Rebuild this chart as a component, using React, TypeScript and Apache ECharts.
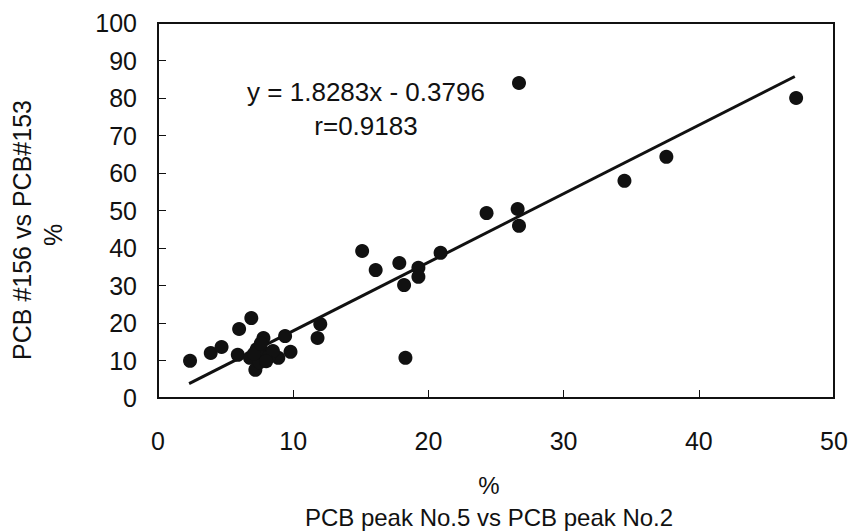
import React, { useEffect, useRef } from "react";
import * as echarts from "echarts";

const xTicks = [0, 10, 20, 30, 40, 50];
const yTicks = [0, 10, 20, 30, 40, 50, 60, 70, 80, 90, 100];

const pointsX = [
  2.37, 3.9, 4.7, 5.9, 6.0, 6.9, 9.4, 9.8, 11.8, 12.0,
  15.1, 16.1, 17.85, 18.2, 18.3, 19.26, 19.26, 20.9, 24.3, 26.6,
  26.7, 26.7, 34.5, 37.6, 47.2,
  7.8, 7.2, 6.8, 8.9, 7.3, 7.9, 8.2, 7.5, 7.1, 8.5, 7.6, 8.0,
];
const pointsY = [
  9.9, 12.0, 13.6, 11.5, 18.4, 21.3, 16.5, 12.3, 16.0, 19.7,
  39.2, 34.1, 36.0, 30.1, 10.7, 34.7, 32.3, 38.7, 49.3, 50.4,
  45.9, 84.0, 57.9, 64.3, 80.0,
  16.0, 7.5, 10.7, 10.7, 13.0, 12.0, 11.0, 9.5, 11.8, 12.5, 14.5, 9.8,
];

const fitSlope = 1.8283;
const fitIntercept = -0.3796;
const fitRange = [2.3, 47.1];

const equationText = "y = 1.8283x - 0.3796";
const rText = "r=0.9183";
const xTitle = "PCB peak No.5 vs PCB peak No.2";
const xUnit = "%";
const yTitle = "PCB #156 vs PCB#153";
const yUnit = "%";

const FONT = "'Liberation Sans', Arial, sans-serif";

export default function App() {
  const ref = useRef<HTMLDivElement>(null);
  useEffect(() => {
    if (!ref.current) return;
    const chart = echarts.init(ref.current, null, { renderer: "svg" });
    const scatterData = pointsX.map((x, i) => [x, pointsY[i]]);
    const lineData = fitRange.map((x) => [x, fitSlope * x + fitIntercept]);
    chart.setOption({
      animation: false,
      backgroundColor: "#ffffff",
      grid: {
        left: 158,
        top: 23,
        width: 676,
        height: 375,
        show: true,
        borderColor: "#111",
        borderWidth: 2,
        backgroundColor: "transparent",
      },
      xAxis: {
        type: "value",
        min: 0,
        max: 50,
        interval: 10,
        axisLine: { show: true, lineStyle: { color: "#111", width: 2 } },
        axisTick: { show: true, inside: true, length: 8, lineStyle: { color: "#111", width: 1 } },
        axisLabel: { color: "#111", fontSize: 25, fontFamily: FONT, margin: 30 },
        splitLine: { show: false },
      },
      yAxis: {
        type: "value",
        min: 0,
        max: 100,
        interval: 10,
        axisLine: { show: true, lineStyle: { color: "#111", width: 2 } },
        axisTick: { show: true, inside: true, length: 8, lineStyle: { color: "#111", width: 1 } },
        axisLabel: { color: "#111", fontSize: 25, fontFamily: FONT, margin: 21 },
        splitLine: { show: false },
      },
      series: [
        {
          type: "line",
          data: lineData,
          symbol: "none",
          lineStyle: { color: "#111", width: 3 },
          z: 2,
        },
        {
          type: "scatter",
          data: scatterData,
          symbol: "circle",
          symbolSize: 14,
          itemStyle: { color: "#111", opacity: 1 },
          z: 3,
        },
      ],
      graphic: [
        {
          type: "text",
          x: 366,
          y: 92,
          style: { text: equationText, fill: "#111", font: `26px ${FONT}`, align: "center", verticalAlign: "middle" },
        },
        {
          type: "text",
          x: 366,
          y: 126,
          style: { text: rText, fill: "#111", font: `26px ${FONT}`, align: "center", verticalAlign: "middle" },
        },
        {
          type: "text",
          x: 489,
          y: 485,
          style: { text: xUnit, fill: "#111", font: `24px ${FONT}`, align: "center", verticalAlign: "middle" },
        },
        {
          type: "text",
          x: 489,
          y: 517,
          style: { text: xTitle, fill: "#111", font: `24px ${FONT}`, align: "center", verticalAlign: "middle" },
        },
        {
          type: "text",
          x: 22,
          y: 230,
          rotation: Math.PI / 2,
          style: { text: yTitle, fill: "#111", font: `25px ${FONT}`, align: "center", verticalAlign: "middle" },
        },
        {
          type: "text",
          x: 53,
          y: 235,
          rotation: Math.PI / 2,
          style: { text: yUnit, fill: "#111", font: `25px ${FONT}`, align: "center", verticalAlign: "middle" },
        },
      ],
    });
    return () => chart.dispose();
  }, []);
  return (
    <div
      ref={ref}
      style={{ position: "fixed", left: 0, top: 0, width: 853, height: 532, background: "#fff" }}
    />
  );
}
